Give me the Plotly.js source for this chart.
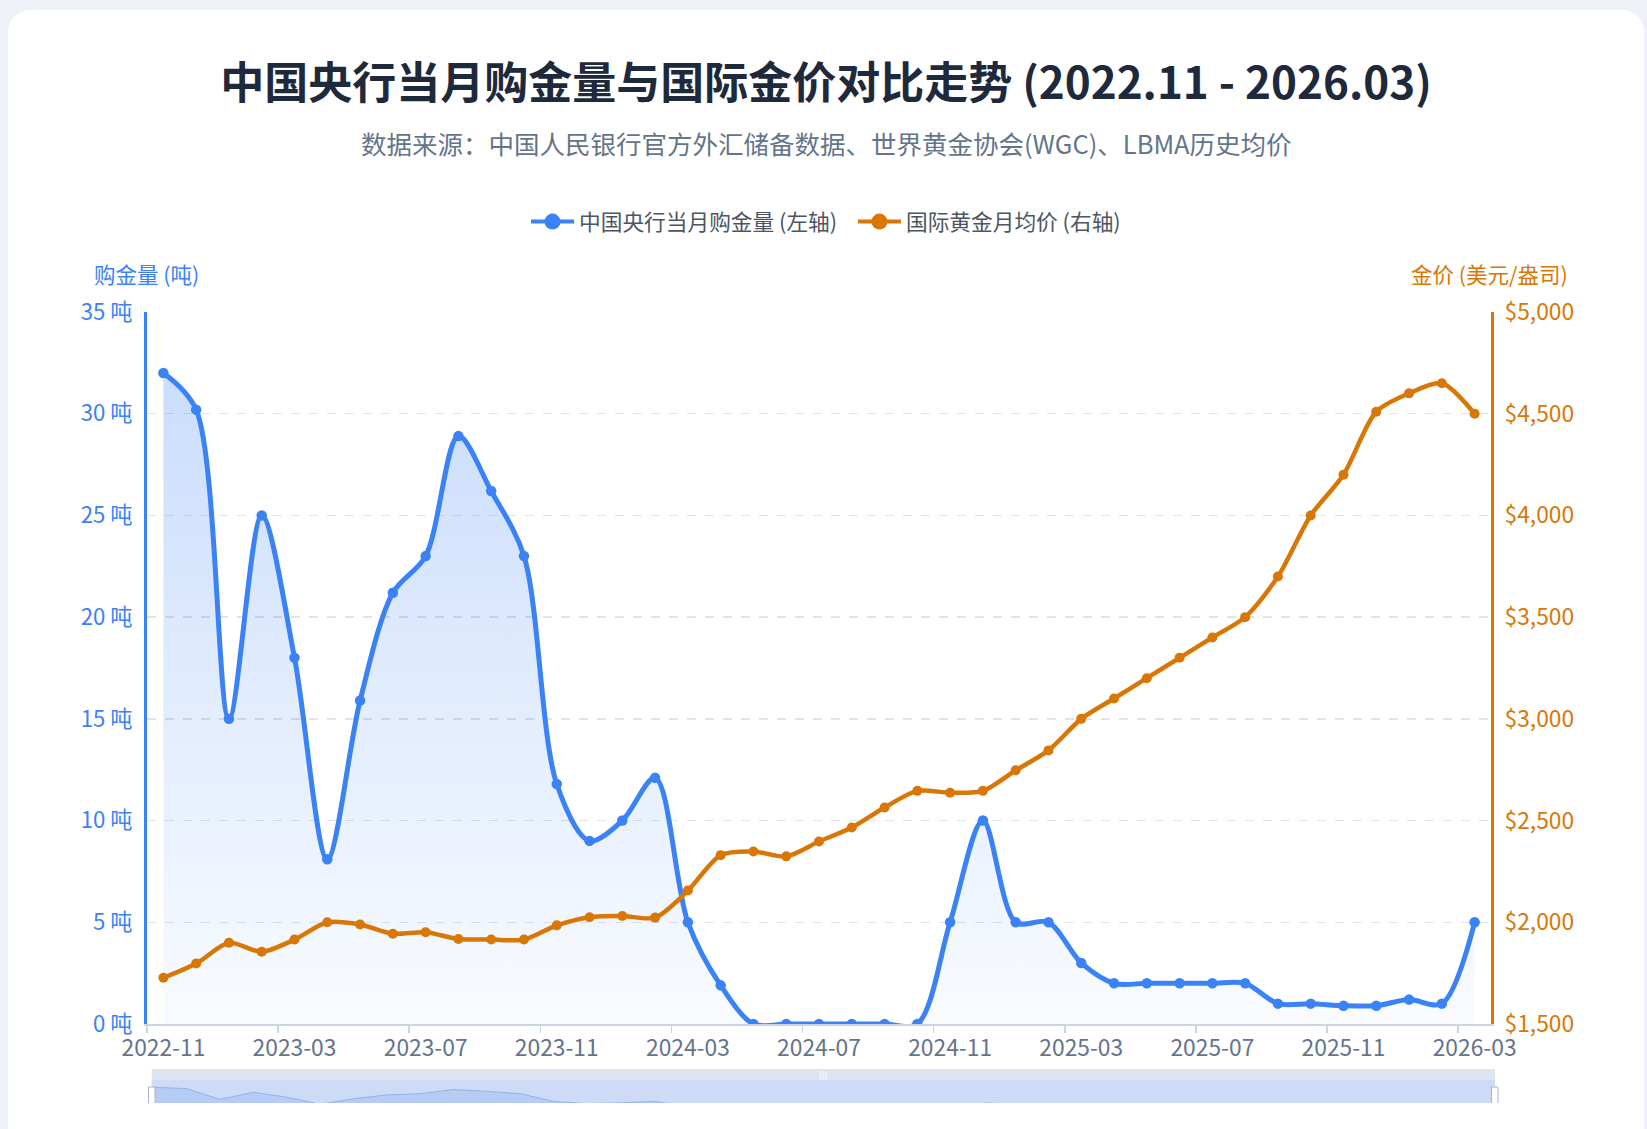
<!DOCTYPE html>
<html>
<head>
<meta charset="utf-8">
<script src="https://cdn.plot.ly/plotly-3.0.1.min.js"></script>
<style>
  html, body { margin:0; padding:0; width:1647px; height:1129px; overflow:hidden; background:#eef2f8; }
  #card { position:absolute; left:8px; top:10px; width:1636px; height:1200px; background:#ffffff; border-radius:22px; }
  #wrap { position:absolute; left:0; top:0; width:1647px; height:1103px; overflow:hidden; }
  #chart { width:1647px; height:1129px; }
</style>
</head>
<body>
<div id="card"></div>
<div id="wrap"><div id="chart"></div></div>
<script>
// ---- data ----
const months = [
  '2022-11','2022-12','2023-01','2023-02','2023-03','2023-04','2023-05','2023-06','2023-07','2023-08',
  '2023-09','2023-10','2023-11','2023-12','2024-01','2024-02','2024-03','2024-04','2024-05','2024-06',
  '2024-07','2024-08','2024-09','2024-10','2024-11','2024-12','2025-01','2025-02','2025-03','2025-04',
  '2025-05','2025-06','2025-07','2025-08','2025-09','2025-10','2025-11','2025-12','2026-01','2026-02',
  '2026-03'
];
// 中国央行当月购金量 (吨)
const pbocTonnes = [
  32, 30.2, 15, 25, 18, 8.1, 15.9, 21.2, 23, 28.9,
  26.2, 23, 11.8, 9, 10, 12.1, 5, 1.9, 0, 0,
  0, 0, 0, 0, 5, 10, 5, 5, 3, 2,
  2, 2, 2, 2, 1, 1, 0.9, 0.9, 1.2, 1,
  5
];
// 国际黄金月均价 (美元/盎司)
const goldPrice = [
  1727, 1797, 1899, 1855, 1915, 2000, 1989, 1944, 1951, 1918,
  1915, 1915, 1985, 2025, 2031, 2023, 2156, 2330, 2348, 2324,
  2397, 2466, 2564, 2646, 2637, 2646, 2747, 2845, 3000, 3100,
  3200, 3300, 3400, 3500, 3700, 4000, 4200, 4510, 4600, 4650,
  4500
];
const seriesNames = ['中国央行当月购金量 (左轴)', '国际黄金月均价 (右轴)'];
const leftTicks = [0, 5, 10, 15, 20, 25, 30, 35];
const leftTickText = ['0 吨', '5 吨', '10 吨', '15 吨', '20 吨', '25 吨', '30 吨', '35 吨'];
const rightTicks = [1500, 2000, 2500, 3000, 3500, 4000, 4500, 5000];
const rightTickText = ['$1,500', '$2,000', '$2,500', '$3,000', '$3,500', '$4,000', '$4,500', '$5,000'];

// ---- style ----
const FONT = '"Noto Sans CJK SC", "Noto Sans", sans-serif';
const BLUE = '#3b82f6';
const GOLD = '#d97706';

// geometry helpers (pixel -> paper)
const W = 1647, H = 1129;
const L = 147, R = 156, T = 312, B = 19;
const PW = W - L - R, PH = H - T - B;
const px = x => (x - L) / PW;
const py = y => (H - B - y) / PH;

const traces = [
  {
    x: months, y: pbocTonnes, name: seriesNames[0], type: 'scatter', mode: 'lines+markers',
    xaxis: 'x', yaxis: 'y', showlegend: false,
    line: { color: BLUE, width: 5, shape: 'spline', smoothing: 0.9 },
    marker: { color: BLUE, size: 10.5 },
    fill: 'tozeroy',
    fillgradient: { type: 'vertical', colorscale: [[0, 'rgba(59,130,246,0.03)'], [1, 'rgba(59,130,246,0.27)']] },
    hoverinfo: 'skip'
  },
  {
    x: months, y: goldPrice, name: seriesNames[1], type: 'scatter', mode: 'lines+markers',
    xaxis: 'x', yaxis: 'y2', showlegend: false,
    line: { color: GOLD, width: 4.5, shape: 'spline', smoothing: 0.8 },
    marker: { color: GOLD, size: 10 },
    hoverinfo: 'skip'
  },
  // legend entries
  {
    x: [null], y: [null], name: seriesNames[0] + '\u2002', type: 'scatter', mode: 'lines+markers',
    xaxis: 'x', yaxis: 'y', line: { color: BLUE, width: 4 }, marker: { color: BLUE, size: 20 }
  },
  {
    x: [null], y: [null], name: seriesNames[1], type: 'scatter', mode: 'lines+markers',
    xaxis: 'x', yaxis: 'y2', line: { color: GOLD, width: 4 }, marker: { color: GOLD, size: 20 }
  },
  // data-zoom shadow
  {
    x: months, y: pbocTonnes, type: 'scatter', mode: 'lines', xaxis: 'x2', yaxis: 'y3', showlegend: false,
    line: { color: '#93b2ea', width: 1 }, fill: 'tozeroy', fillcolor: 'rgba(120,160,235,0.25)',
    hoverinfo: 'skip'
  }
];

const layout = {
  width: W, height: H,
  margin: { l: L, r: R, t: T, b: B },
  paper_bgcolor: 'rgba(0,0,0,0)',
  plot_bgcolor: 'rgba(0,0,0,0)',
  font: { family: FONT, size: 21, color: '#4b5563' },
  title: {
    text: '中国央行当月购金量与国际金价对比走势 (2022.11 - 2026.03)',
    font: { family: FONT, size: 44, color: '#1e293b', weight: 700 },
    x: 0.5015, xref: 'container', y: 1 - 84 / H, yref: 'container', yanchor: 'middle'
  },
  showlegend: true,
  legend: {
    orientation: 'h', x: px(826), xanchor: 'center', y: py(222), yanchor: 'middle',
    font: { family: FONT, size: 21.7, color: '#4b5563' }, itemwidth: 43, bgcolor: 'rgba(0,0,0,0)'
  },
  xaxis: {
    type: 'category', range: [-0.5, 40.5], anchor: 'y',
    tickmode: 'linear', tick0: 0, dtick: 4, tickson: 'boundaries', tickangle: 0,
    ticks: 'outside', ticklen: 7, tickcolor: '#cbd5e1', tickwidth: 1.5,
    showline: true, linecolor: '#cbd5e1', linewidth: 1.5,
    showgrid: false, zeroline: false,
    tickfont: { family: FONT, size: 22.8, color: '#64748b' }, ticklabelstandoff: 3
  },
  yaxis: {
    domain: [py(1024), 1], range: [0, 35], tickmode: 'array', tickvals: leftTicks, ticktext: leftTickText,
    showline: true, linecolor: BLUE, linewidth: 3, ticks: '',
    showgrid: true, gridcolor: '#dfe3ea', griddash: 'dash', gridwidth: 1.3, zeroline: false,
    tickfont: { family: FONT, size: 22.2, color: BLUE }, ticklabelstandoff: 7
  },
  yaxis2: {
    overlaying: 'y', side: 'right', range: [1500, 5000], tickmode: 'array', tickvals: rightTicks, ticktext: rightTickText,
    showline: true, linecolor: GOLD, linewidth: 3, ticks: '',
    showgrid: false, zeroline: false,
    tickfont: { family: FONT, size: 22.8, color: GOLD }, ticklabelstandoff: 6
  },
  xaxis2: {
    type: 'category', domain: [px(153), px(1490)], anchor: 'y3', range: [0, 40], visible: false, fixedrange: true
  },
  yaxis3: {
    domain: [0, py(1080)], anchor: 'x2', range: [0, 42.3], visible: false, fixedrange: true
  },
  shapes: [
    { type: 'rect', xref: 'paper', yref: 'paper', x0: px(151.7), x1: px(1495), y0: py(1080), y1: py(1069),
      fillcolor: '#dfe5ef', line: { width: 0 }, layer: 'below' },
    { type: 'rect', xref: 'paper', yref: 'paper', x0: px(151.7), x1: px(1495), y0: -0.03, y1: py(1080),
      fillcolor: '#cddbf7', line: { width: 0 }, layer: 'below' },
    { type: 'rect', xref: 'paper', yref: 'paper', x0: px(148.5), x1: px(155), y0: -0.03, y1: py(1087),
      fillcolor: '#ffffff', line: { width: 1, color: '#aab4c4' }, layer: 'above' },
    { type: 'rect', xref: 'paper', yref: 'paper', x0: px(1491.5), x1: px(1498), y0: -0.03, y1: py(1087),
      fillcolor: '#ffffff', line: { width: 1, color: '#aab4c4' }, layer: 'above' }
  ],
  annotations: [
    { text: '数据来源：中国人民银行官方外汇储备数据、世界黄金协会(WGC)、LBMA历史均价',
      xref: 'paper', yref: 'paper', x: px(826), y: py(142), xanchor: 'center', yanchor: 'middle',
      showarrow: false, font: { family: FONT, size: 25.5, color: '#64748b' } },
    { text: '购金量 (吨)', xref: 'paper', yref: 'paper', x: px(92), y: py(273), xanchor: 'left', yanchor: 'middle',
      showarrow: false, font: { family: FONT, size: 21.5, color: BLUE } },
    { text: '金价 (美元/盎司)', xref: 'paper', yref: 'paper', x: px(1570), y: py(273), xanchor: 'right', yanchor: 'middle',
      showarrow: false, font: { family: FONT, size: 21.5, color: GOLD } },
    { text: '|||', xref: 'paper', yref: 'paper', x: px(823), y: py(1075), xanchor: 'center', yanchor: 'middle',
      showarrow: false, font: { family: 'DejaVu Sans', size: 8, color: '#ffffff' } }
  ]
};

Plotly.newPlot('chart', traces, layout, { staticPlot: true, displayModeBar: false });
</script>
</body>
</html>
